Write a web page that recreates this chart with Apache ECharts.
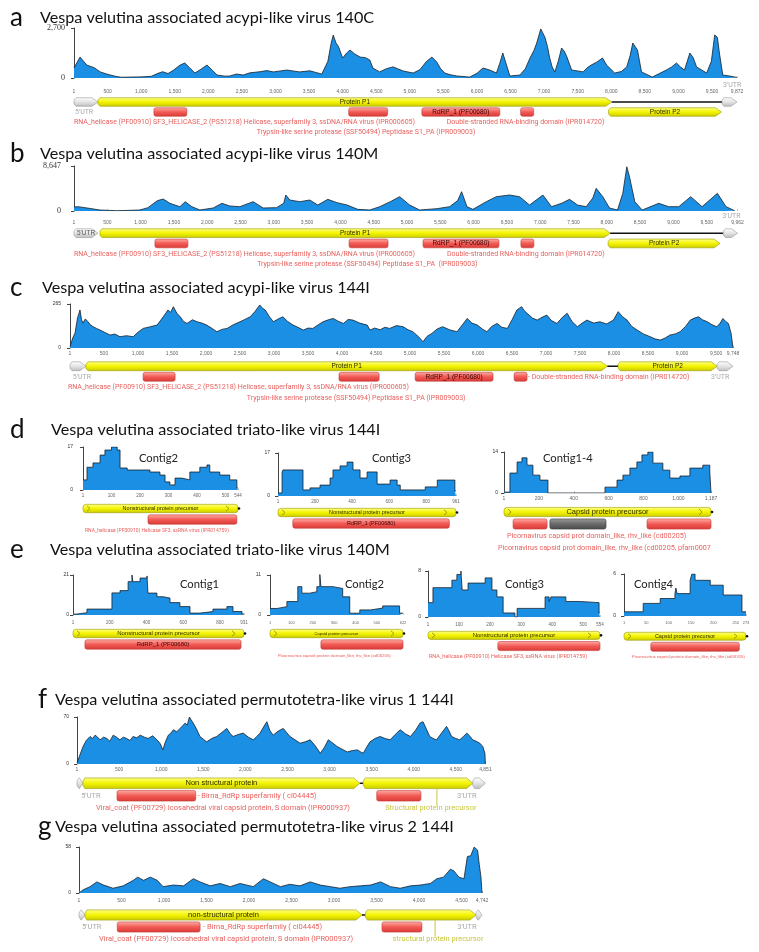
<!DOCTYPE html>
<html>
<head>
<meta charset="utf-8">
<title>Vespa velutina virus genome coverage</title>
<script src="https://cdn.jsdelivr.net/npm/echarts@6/dist/echarts.min.js"></script>
<style>
  html, body { margin: 0; padding: 0; background: #fff; }
  #chart { width: 759px; height: 952px; }
</style>
</head>
<body>
<div id="chart"></div>
<script>
// ---------- coverage data: [position (bp), depth] ----------
const covA = [[0,540],[90,1130],[190,700],[300,560],[390,330],[500,200],[610,100],[700,40],[830,50],[1000,60],[1150,90],[1250,250],[1320,340],[1400,240],[1480,420],[1580,700],[1650,810],[1720,560],[1800,270],[1880,450],[1980,700],[2060,420],[2130,160],[2250,100],[2320,110],[2420,216],[2520,160],[2620,280],[2770,340],[2870,400],[2970,330],[3070,380],[3170,430],[3260,380],[3360,330],[3440,360],[3510,390],[3600,300],[3690,216],[3780,900],[3830,1900],[3860,2320],[3900,1900],[3940,1680],[4000,1080],[4060,1350],[4110,1510],[4180,1300],[4260,1130],[4340,1100],[4405,970],[4450,540],[4550,330],[4650,500],[4750,600],[4820,500],[4900,380],[5050,270],[5150,450],[5250,900],[5330,1130],[5400,870],[5460,500],[5520,270],[5600,180],[5700,110],[5890,50],[6000,250],[6090,540],[6190,430],[6290,270],[6340,800],[6385,1350],[6440,700],[6490,110],[6640,160],[6720,500],[6790,1080],[6850,1500],[6890,1890],[6950,2650],[7010,2220],[7050,1700],[7080,1130],[7120,600],[7160,330],[7210,900],[7260,1620],[7300,1450],[7340,1130],[7410,430],[7500,380],[7580,330],[7640,550],[7700,700],[7780,850],[7870,1080],[7930,700],[8050,270],[8150,350],[8230,600],[8280,1200],[8320,1890],[8390,1510],[8450,330],[8610,50],[8720,250],[8820,430],[8900,600],[8970,810],[9030,600],[9090,430],[9170,1350],[9220,1100],[9270,600],[9420,270],[9490,900],[9540,2320],[9580,2200],[9610,1350],[9660,160],[9760,110],[9872,30]];

const covB = [[0,770],[60,830],[195,580],[390,190],[650,60],[990,190],[1110,640],[1250,1980],[1340,2300],[1440,1470],[1590,830],[1670,1790],[1770,830],[1890,190],[2090,580],[2220,1470],[2340,960],[2490,830],[2690,1790],[2840,580],[3040,640],[3150,1500],[3180,3070],[3240,2110],[3390,1790],[3540,2110],[3660,1150],[3810,2240],[3950,1600],[4100,1150],[4260,320],[4440,190],[4590,830],[4750,1800],[4890,2750],[5040,1150],[5190,190],[5450,450],[5640,830],[5760,2000],[5820,3710],[5900,830],[5990,320],[6190,1790],[6340,2750],[6540,3070],[6690,2750],[6840,1150],[7040,3070],[7170,830],[7320,1470],[7440,2240],[7560,1150],[7690,830],[7790,2500],[7840,4350],[7940,2750],[8040,580],[8160,190],[8240,3390],[8300,8500],[8340,6590],[8420,1790],[8530,190],[8780,1470],[8930,830],[9080,830],[9260,2750],[9430,830],[9660,3390],[9790,830],[9920,60]];

const covC = [[0,8],[40,60],[74,90],[110,180],[147,229],[170,170],[190,150],[225,175],[265,158],[300,140],[340,128],[390,118],[441,108],[520,92],[590,78],[660,84],[735,68],[830,74],[930,68],[1000,95],[1075,118],[1180,128],[1280,138],[1330,165],[1370,188],[1400,205],[1440,229],[1480,215],[1520,249],[1570,210],[1620,188],[1670,160],[1720,148],[1800,170],[1870,158],[1940,150],[2010,138],[2080,120],[2160,98],[2230,112],[2310,118],[2400,140],[2500,158],[2570,172],[2650,188],[2720,220],[2790,259],[2830,240],[2870,229],[2930,190],[2990,158],[3060,175],[3130,188],[3200,160],[3280,138],[3350,125],[3430,108],[3500,120],[3570,118],[3650,140],[3720,158],[3800,170],[3870,178],[3950,160],[4020,148],[4090,172],[4160,168],[4260,150],[4370,138],[4410,108],[4480,120],[4560,110],[4630,125],[4700,118],[4800,135],[4900,128],[4970,110],[5040,98],[5120,70],[5190,38],[5250,70],[5320,88],[5400,115],[5480,128],[5580,110],[5690,98],[5770,140],[5840,178],[5910,150],[5990,138],[6060,115],[6130,98],[6200,130],[6280,148],[6350,125],[6430,118],[6500,170],[6570,229],[6640,249],[6680,225],[6720,209],[6800,180],[6870,168],[6940,185],[7010,198],[7080,165],[7160,148],[7240,185],[7310,209],[7380,160],[7460,128],[7530,150],[7600,168],[7700,150],[7790,158],[7890,145],[7990,168],[8060,219],[8120,190],[8190,168],[8260,130],[8340,108],[8430,85],[8530,68],[8600,55],[8680,48],[8750,60],[8820,78],[8900,85],[8970,98],[9050,130],[9120,168],[9180,180],[9240,188],[9300,170],[9370,158],[9440,140],[9510,128],[9560,150],[9600,178],[9640,160],[9680,148],[9720,88],[9748,0]];

const covD2 = [[0,4],[14,9],[35,10.7],[60,13.8],[77,15.8],[100,17],[120,15.8],[130,8.7],[155,7.9],[200,7.9],[235,7.1],[270,5.9],[288,3.2],[305,2],[323,4.7],[347,4],[375,7.1],[410,9],[435,9.9],[445,7.1],[480,5.9],[515,4],[540,0.8],[544,0.8]];
const covD3 = [[0,1.2],[22,9.5],[27,10.3],[119,10.3],[135,2.4],[173,3.2],[227,4.3],[281,7.1],[297,10.3],[335,11.9],[373,13.4],[405,10.3],[443,7.1],[481,9.5],[535,4.7],[605,6.3],[643,4.3],[660,2.4],[795,3.6],[860,6.3],[955,2],[961,2]];
const covD14 = [[0,0.3],[34,6.8],[75,10.6],[103,12],[132,9.5],[166,6.1],[206,4.4],[252,0],[579,2],[648,4.4],[682,6.1],[722,8.5],[762,10.6],[791,13],[825,14],[854,10.2],[911,7.8],[951,5.1],[1009,5.8],[1066,8.5],[1140,9.5],[1180,7.2],[1187,0]];

const covE1 = [[0,0.5],[22,1.2],[76,3.1],[212,11.6],[256,12.8],[300,17.5],[321,21],[326,17.5],[365,19.4],[403,20.5],[408,11.5],[457,9.6],[490,8.9],[528,6.5],[582,4.4],[637,1],[691,1.8],[762,3.1],[838,4.4],[871,1.8],[920,0.5],[931,0.5]];
const covE2 = [[0,1.8],[33,2.3],[79,3.7],[130,7.8],[149,6],[186,6.4],[219,7.8],[233,11.3],[238,7.8],[294,7.3],[340,5],[373,0.5],[420,1.4],[470,1.9],[527,2.5],[606,0.5],[622,0.5]];
const covE3 = [[0,2.5],[16,5.1],[77,6.4],[93,7.4],[106,8],[110,4.7],[129,5.9],[184,6.8],[206,4.7],[222,3.5],[242,0.7],[280,0],[287,1.5],[351,1.5],[377,3.5],[390,2.7],[396,3.5],[444,2.7],[490,2.5],[551,0.7],[554,0.7]];
const covE4 = [[0,0.6],[43,1.8],[81,2.5],[114,3.2],[116,4],[119,3.2],[148,5.1],[152,6],[159,5.1],[193,4.4],[222,3],[264,0.6],[273,0.6]];

const covF = [[0,1.5],[30,12],[72,26],[110,35],[155,41],[185,38],[215,43],[245,40],[275,36],[315,40],[355,38],[390,34],[430,43],[470,40],[510,36],[550,40],[590,38],[630,35],[665,41],[710,39],[750,43],[800,40],[845,38],[900,42],[950,36],[990,30],[1020,21],[1050,33],[1085,43],[1115,46],[1145,51],[1185,48],[1225,53],[1255,57],[1285,61],[1310,58],[1335,70],[1355,66],[1380,61],[1420,52],[1460,41],[1500,37],[1540,33],[1600,38],[1660,41],[1720,47],[1780,53],[1820,45],[1855,41],[1915,44],[1975,46],[2035,40],[2095,36],[2135,41],[2175,46],[2215,55],[2255,63],[2290,50],[2330,43],[2390,49],[2450,53],[2490,47],[2530,41],[2590,36],[2650,31],[2710,33],[2770,36],[2830,27],[2890,16],[2940,25],[2985,36],[3040,31],[3090,26],[3150,22],[3210,18],[3270,20],[3330,21],[3370,18],[3400,16],[3440,25],[3480,33],[3540,38],[3600,41],[3660,38],[3720,36],[3780,44],[3840,51],[3900,45],[3960,41],[4020,50],[4075,61],[4110,63],[4150,52],[4190,41],[4230,38],[4270,36],[4330,46],[4390,56],[4420,49],[4450,41],[4500,38],[4545,36],[4590,41],[4630,46],[4670,41],[4700,36],[4740,34],[4785,31],[4820,26],[4845,16],[4851,0]];

const covG = [[0,0],[48,4],[130,8],[210,14],[290,10],[400,6],[520,9],[640,16],[690,20],[760,16],[840,20],[920,16],[990,8],[1110,10],[1230,9],[1345,18],[1425,14],[1545,9],[1660,12],[1780,8],[1895,12],[2050,8],[2170,18],[2250,14],[2370,8],[2480,11],[2600,9],[2720,14],[2840,10],[2960,8],[3070,6],[3190,8],[3310,9],[3430,10],[3550,14],[3665,8],[3780,6],[3900,9],[4015,10],[4135,12],[4210,18],[4290,20],[4370,30],[4410,28],[4470,20],[4530,18],[4570,46],[4610,47],[4650,58],[4690,54],[4710,36],[4730,20],[4742,0]];

// ---------- annotations: [start, end, lane, kind, label] ----------
const featA = [[0,357,0,'utr',''],[357,8006,0,'cds','Protein P1'],[8006,9650,0,'link',''],[9650,9872,0,'utr',''],[7960,9640,1,'cds','Protein P2'],[1190,1680,1,'domain',''],[4090,4670,1,'domain',''],[5180,6340,1,'domain','RdRP_1 (PF00680)'],[6650,6845,1,'domain','']];
const featB = [[0,360,0,'utr',"5'UTR"],[390,8050,0,'cds','Protein P1'],[8050,9750,0,'link',''],[9750,9962,0,'utr',''],[8020,9700,1,'cds','Protein P2'],[1215,1710,1,'domain',''],[4130,4715,1,'domain',''],[5240,6380,1,'domain','RdRP_1 (PF00680)'],[6710,6905,1,'domain','']];
const featC = [[0,235,0,'utr',''],[235,7900,0,'cds','Protein P1'],[7900,8060,0,'link',''],[8060,9515,0,'cds','Protein P2'],[9515,9748,0,'utr',''],[1075,1545,1,'domain',''],[3955,4545,1,'domain',''],[5075,6220,1,'domain','RdRP_1 (PF00680)'],[6530,6720,1,'domain','']];
const featD2 = [[0,544,0,'precursor','Nonstructural protein precursor'],[228,540,1,'domain','']];
const featD3 = [[0,961,0,'precursor','Nonstructural protein precursor'],[80,925,1,'domain','RdRP_1 (PF00680)']];
const featD14 = [[0,1187,0,'precursor','Capsid protein precursor'],[52,247,1,'domain',''],[263,585,1,'blank',''],[820,1187,1,'domain','']];
const featE1 = [[0,931,0,'precursor','Nonstructural protein precursor'],[65,915,1,'domain','RdRP_1 (PF00680)']];
const featE2 = [[0,622,0,'precursor','Capsid protein precursor'],[238,622,1,'domain','']];
const featE3 = [[0,554,0,'precursor','Nonstructural protein precursor'],[225,554,1,'domain','']];
const featE4 = [[0,273,0,'precursor','Capsid protein precursor'],[60,258,1,'domain','']];
const featF = [[0,70,0,'utr',''],[70,3360,0,'cds','Non structural protein'],[3360,3400,0,'link',''],[3400,4700,0,'cds',''],[4700,4851,0,'utr',''],[475,1410,1,'domain',''],[3560,4085,1,'domain',''],[4275,4275,0,'tether','']];
const featG = [[0,70,0,'utr',''],[70,3330,0,'cds','non-structural protein'],[3330,3370,0,'link',''],[3370,4670,0,'cds',''],[4670,4742,0,'utr',''],[450,1425,1,'domain',''],[3565,4035,1,'domain',''],[4190,4190,0,'tether','']];

// ---------- annotation texts: [position, lane, text, kind] ----------
const HELICASE = 'RNA_helicase (PF00910) SF3_HELICASE_2 (PS51218) Helicase, superfamily 3, ssDNA/RNA virus (IPR000605)';
const DSRBD = 'Double-stranded RNA-binding domain (IPR014720)';
const TRYPSIN = 'Trypsin-like serine protease (SSF50494) Peptidase S1_PA (IPR009003)';
const HEL_SF3 = 'RNA_helicase (PF00910) Helicase SF3, ssRNA virus (IPR014759)';
const PICORNA = 'Picornavirus capsid protein domain_like, rhv_like (cd00205)';
const BIRNA = '- Birna_RdRp superfamily ( cl04445)';
const VCOAT = 'Viral_coat (PF00729) Icosahedral viral capsid protein, S domain (IPR000937)';

const notesA = [[150,1,"5'UTR",'utr'],[9800,-1.7,"3'UTR",'utr'],[0,2,HELICASE,'note'],[5550,2,DSRBD,'note'],[2720,3,TRYPSIN,'note']];
const notesB = [[9870,-1.6,"3'UTR",'utr'],[0,2,HELICASE,'note'],[5600,2,DSRBD,'note'],[2750,3,'Trypsin-like serine protease (SSF50494) Peptidase S1_PA  (IPR009003)','note']];
const notesC = [[175,1,"5'UTR",'utr'],[9560,1,"3'UTR",'utr'],[6735,1,'- ' + DSRBD,'note'],[-30,2,HELICASE,'note'],[2600,3,TRYPSIN,'note']];
const notesD2 = [[7,2,HEL_SF3,'note']];
const notesD3 = [];
const notesD14 = [[17,2,'Picornavirus capsid prot domain_like, rhv_like (cd00205)','note'],[-35,3,'Picornavirus capsid prot domain_like, rhv_like (cd00205, pfam0007','note']];
const notesE1 = [];
const notesE2 = [[37,2,PICORNA,'note']];
const notesE3 = [[3,2,HEL_SF3,'note']];
const notesE4 = [[18,2,PICORNA,'note']];
const notesF = [[165,1,"5'UTR",'utr'],[4630,1,"3'UTR",'utr'],[1430,1,BIRNA,'note'],[225,2,VCOAT,'note'],[3660,2,'Structural protein precursor','product']];
const notesG = [[150,1,"5'UTR",'utr'],[4565,1,"3'UTR",'utr'],[1460,1,BIRNA,'note'],[235,2,VCOAT,'note'],[3690,2,'structural protein precursor','product']];

// ---------- headings ----------
const panelTags = ['a', 'b', 'c', 'd', 'e', 'f', 'g'];
const panelTitles = [
  'Vespa velutina associated acypi-like virus 140C',
  'Vespa velutina associated acypi-like virus 140M',
  'Vespa velutina associated acypi-like virus 144I',
  'Vespa velutina associated triato-like virus 144I',
  'Vespa velutina associated triato-like virus 140M',
  'Vespa velutina associated permutotetra-like virus 1 144I',
  'Vespa velutina associated permutotetra-like virus 2 144I'
];
const contigNames = ['Contig2', 'Contig3', 'Contig1-4', 'Contig1', 'Contig2', 'Contig3', 'Contig4'];

// ---------- layout (pixels) ----------
const titleSpots = [[10, 40, 18], [10, 40, 154], [10, 42, 288], [10, 51, 430], [10, 50, 550], [38, 55, 700], [38, 55, 827]];
const contigSpots = [[139, 458], [372, 458], [543, 458], [180, 584], [345, 584], [505, 584], [634, 584]];

const panels = [
  { cov: covA, feats: featA, notes: notesA, len: 9872, yMax: 2700, tick: 500, box: [74, 737, 28, 78], axisOff: 7, rulerY: 92, annTop: 97, laneH: 10, lanes: 4, yFont: 8, serif: true, rulerFont: 5, geneFont: 6.5, noteFont: 7 },
  { cov: covB, feats: featB, notes: notesB, len: 9962, yMax: 8647, tick: 500, box: [74, 737.5, 166, 211], axisOff: 11, rulerY: 223, annTop: 228, laneH: 10.3, lanes: 4, yFont: 8, serif: true, rulerFont: 5, geneFont: 6.5, noteFont: 7 },
  { cov: covC, feats: featC, notes: notesC, len: 9748, yMax: 265, tick: 500, box: [70, 733, 304, 348], axisOff: 7, rulerY: 354, annTop: 361, laneH: 10.5, lanes: 4, yFont: 5, rulerFont: 5, geneFont: 6.5, noteFont: 7 },
  { cov: covD2, feats: featD2, notes: notesD2, len: 544, yMax: 17, tick: 100, step: true, box: [83, 238, 447, 490], axisOff: 8, rulerY: 496, annTop: 503, laneH: 11, lanes: 3, yFont: 5, rulerFont: 4.5, geneFont: 5.5, noteFont: 5 },
  { cov: covD3, feats: featD3, notes: notesD3, len: 961, yMax: 17, tick: 200, step: true, box: [278, 456, 453, 496], axisOff: 6, rulerY: 502, annTop: 507, laneH: 11, lanes: 2, yFont: 5, rulerFont: 4.5, geneFont: 5.5, noteFont: 5 },
  { cov: covD14, feats: featD14, notes: notesD14, len: 1187, yMax: 14, tick: 200, step: true, box: [504, 711, 452, 493], axisOff: 4, rulerY: 499, annTop: 506, laneH: 12, lanes: 4, yFont: 5, rulerFont: 5, geneFont: 7.5, noteFont: 7.2 },
  { cov: covE1, feats: featE1, notes: notesE1, len: 931, yMax: 21, tick: 200, step: true, box: [73, 244, 575, 615], axisOff: 2, rulerY: 623, annTop: 628, laneH: 11, lanes: 2, yFont: 5, rulerFont: 4.5, geneFont: 6, noteFont: 5 },
  { cov: covE2, feats: featE2, notes: notesE2, len: 622, yMax: 11, tick: 100, step: true, box: [270, 403, 575, 615], axisOff: 7, rulerY: 623, annTop: 628, laneH: 11, lanes: 3, yFont: 5, rulerFont: 4, geneFont: 4, noteFont: 4.3 },
  { cov: covE3, feats: featE3, notes: notesE3, len: 554, yMax: 8, tick: 100, step: true, box: [428, 600, 571, 617], axisOff: 5, rulerY: 625, annTop: 630, laneH: 10.7, lanes: 3, yFont: 5, rulerFont: 4.5, geneFont: 6, noteFont: 5.5 },
  { cov: covE4, feats: featE4, notes: notesE4, len: 273, yMax: 6, tick: 50, step: true, box: [624, 746, 574, 616], axisOff: 6, rulerY: 623, annTop: 631, laneH: 10.5, lanes: 3, yFont: 5, rulerFont: 4, geneFont: 5.5, noteFont: 4.3 },
  { cov: covF, feats: featF, notes: notesF, len: 4851, yMax: 70, tick: 500, box: [77, 485.4, 717, 764], axisOff: 6, rulerY: 770, annTop: 777, laneH: 12.5, lanes: 3, yFont: 5, rulerFont: 5, geneFont: 7.5, noteFont: 7.5 },
  { cov: covG, feats: featG, notes: notesG, len: 4742, yMax: 58, tick: 500, box: [79, 482, 847, 893], axisOff: 6, rulerY: 901, annTop: 909, laneH: 12, lanes: 3, yFont: 5, rulerFont: 5, geneFont: 7.5, noteFont: 7.5 }
];

const NOTE_STYLE = {
  note: { color: '#e8625f', align: 'left' },
  utr: { color: '#a9a9a9', align: 'center' },
  product: { color: '#c9c640', align: 'left' }
};

function vGrad(stops) {
  return new echarts.graphic.LinearGradient(0, 0, 0, 1, stops.map((c, i) => ({ offset: i / (stops.length - 1), color: c })));
}

// draw one gene / domain element
function drawFeature(f, p, api) {
  const [s, e, lane, kind, label] = f;
  const a = api.coord([s, lane + 0.5]);
  const b = api.coord([e, lane + 0.5]);
  const x0 = a[0], x1 = b[0], cy = a[1];
  const h = p.laneH * 0.85;
  const top = cy - h / 2;
  const kids = [];
  const text = (t, fill) => ({
    type: 'text', z2: 10,
    style: { text: t, x: (x0 + x1) / 2, y: cy, align: 'center', verticalAlign: 'middle', fill: fill, font: p.geneFont + 'px "Liberation Sans"' }
  });

  if (kind === 'link') {
    kids.push({ type: 'line', shape: { x1: x0, y1: cy, x2: x1, y2: cy }, style: { stroke: '#111', lineWidth: 1.5 } });
  } else if (kind === 'tether') {
    kids.push({ type: 'line', shape: { x1: x0, y1: cy + h / 2, x2: x0, y2: cy + p.laneH * 1.8 }, style: { stroke: '#c9c640', lineWidth: 1 } });
  } else if (kind === 'cds' || kind === 'utr') {
    const head = Math.min(6, (x1 - x0) * 0.6);
    const pts = [[x0 + 2, top], [x1 - head, top], [x1, cy], [x1 - head, top + h], [x0 + 2, top + h], [x0, cy + 2], [x0, cy - 2]];
    const fill = kind === 'cds' ? vGrad(['#ffff8a', '#f4f400', '#caca00']) : vGrad(['#ffffff', '#e4e4e4', '#bdbdbd']);
    kids.push({ type: 'polygon', shape: { points: pts }, style: { fill: fill, stroke: kind === 'cds' ? '#9c9c00' : '#9a9a9a', lineWidth: 0.6 } });
    if (label) kids.push(text(label, kind === 'cds' ? '#2a2a00' : '#555'));
  } else if (kind === 'domain' || kind === 'blank') {
    const fill = kind === 'domain' ? vGrad(['#ffb0a8', '#f25a55', '#d83a36']) : vGrad(['#9a9a9a', '#6a6a6a', '#4a4a4a']);
    kids.push({ type: 'rect', shape: { x: x0, y: top, width: x1 - x0, height: h, r: 2 }, style: { fill: fill, stroke: kind === 'domain' ? '#c43c38' : '#3c3c3c', lineWidth: 0.6 } });
    if (label) kids.push(text(label, '#3a0505'));
  } else if (kind === 'precursor') {
    kids.push({ type: 'rect', shape: { x: x0, y: top + 0.5, width: x1 - x0, height: h - 1, r: 3 }, style: { fill: vGrad(['#ffff8a', '#f4f400', '#caca00']), stroke: '#9c9c00', lineWidth: 0.6 } });
    const ch = (cx) => ({ type: 'polyline', shape: { points: [[cx, top + 2], [cx + 3, cy], [cx, top + h - 2]] }, style: { stroke: '#8a8a00', lineWidth: 0.8, fill: null } });
    kids.push(ch(x0 + 4), ch(x1 - 12));
    kids.push({ type: 'circle', shape: { cx: x1 + 1, cy: cy, r: 1.3 }, style: { fill: '#111' } });
    if (label) kids.push(text(label, '#2a2a00'));
  }
  return { type: 'group', children: kids };
}

function drawNote(n, p, api) {
  const [pos, lane, t, kind] = n;
  const c = api.coord([pos, lane + 0.5]);
  const st = NOTE_STYLE[kind];
  return {
    type: 'text',
    style: { text: t, x: c[0], y: c[1], align: st.align, verticalAlign: 'middle', fill: st.color, font: p.noteFont + 'px Roboto' }
  };
}

// ---------- build option ----------
const grid = [], xAxis = [], yAxis = [], series = [];

panels.forEach(function (p) {
  const [x0, x1, t, b] = p.box;
  const gi = grid.length;
  grid.push({ left: x0, width: x1 - x0, top: t, height: b - t });
  grid.push({ left: x0, width: x1 - x0, top: p.annTop, height: p.lanes * p.laneH });

  // coverage x axis doubles as the ruler
  xAxis.push({
    gridIndex: gi, type: 'value', min: 0, max: p.len, interval: p.tick,
    position: 'bottom', offset: p.rulerY - b - 1 - p.rulerFont / 2,
    axisLine: { show: false }, splitLine: { show: false },
    axisTick: { show: true, inside: true, length: 2, lineStyle: { color: '#999', width: 0.6 } },
    axisLabel: {
      fontSize: p.rulerFont, color: '#666', margin: 1, showMinLabel: true, showMaxLabel: true,
      fontFamily: 'Liberation Sans',
      formatter: v => (v === 0 ? '1' : echarts.format.addCommas(v))
    }
  });
  yAxis.push({
    gridIndex: gi, type: 'value', min: 0, max: p.yMax, interval: p.yMax, offset: p.axisOff,
    axisLine: { show: true, lineStyle: { color: '#444', width: 1 } },
    axisTick: { show: true, length: 3, lineStyle: { color: '#444', width: 1 } },
    splitLine: { show: false },
    axisLabel: { fontSize: p.yFont, fontFamily: p.serif ? 'Liberation Serif' : 'Liberation Sans', color: '#333', margin: 2 }
  });
  // annotation track axes
  xAxis.push({ gridIndex: gi + 1, type: 'value', min: 0, max: p.len, show: false });
  yAxis.push({ gridIndex: gi + 1, type: 'value', min: 0, max: p.lanes, inverse: true, show: false });

  series.push({
    type: 'line', xAxisIndex: gi, yAxisIndex: gi, data: p.cov,
    step: p.step ? 'end' : false, symbol: 'none', silent: true,
    lineStyle: { color: '#16212b', width: 0.8 },
    areaStyle: { color: '#1a8fe3', opacity: 1 }
  });
  series.push({
    type: 'custom', xAxisIndex: gi + 1, yAxisIndex: gi + 1, clip: false, silent: true,
    data: p.feats.map(f => [f[0], f[1], f[2]]),
    renderItem: (params, api) => drawFeature(p.feats[params.dataIndex], p, api)
  });
  series.push({
    type: 'custom', xAxisIndex: gi + 1, yAxisIndex: gi + 1, clip: false, silent: true,
    data: p.notes.map(n => [n[0], n[1]]),
    renderItem: (params, api) => drawNote(p.notes[params.dataIndex], p, api)
  });
});

const graphic = [];
panelTags.forEach(function (tag, i) {
  const [lx, tx, y] = titleSpots[i];
  graphic.push({ type: 'text', style: { text: tag, x: lx, y: y, verticalAlign: 'middle', font: '26px Lato', fill: '#111' } });
  graphic.push({ type: 'text', style: { text: panelTitles[i], x: tx, y: y, verticalAlign: 'middle', font: '16.2px Lato', fill: '#111' } });
});
contigNames.forEach(function (name, i) {
  const [x, y] = contigSpots[i];
  graphic.push({ type: 'text', style: { text: name, x: x, y: y, verticalAlign: 'middle', font: '11.2px Lato', fill: '#222' } });
});

const chart = echarts.init(document.getElementById('chart'), null, { renderer: 'canvas' });
chart.setOption({
  animation: false,
  backgroundColor: '#fff',
  grid: grid,
  xAxis: xAxis,
  yAxis: yAxis,
  series: series,
  graphic: graphic
});
</script>
</body>
</html>
